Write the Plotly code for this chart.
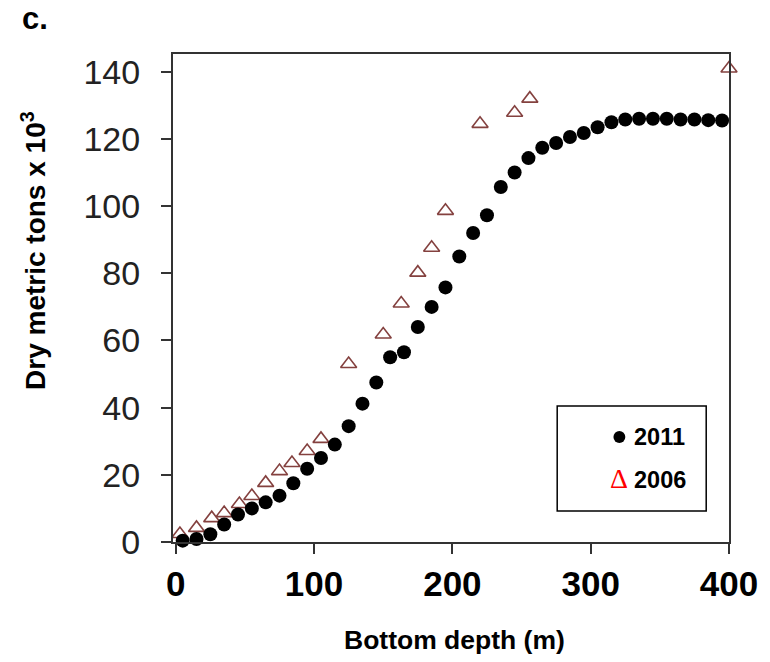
import plotly.graph_objects as go

# ---- data ----
depth_2011 = [5, 15, 25, 35, 45, 55, 65, 75, 85, 95, 105, 115, 125, 135, 145, 155, 165, 175,
              185, 195, 205, 215, 225, 235, 245, 255, 265, 275, 285, 295, 305, 315, 325, 335,
              345, 355, 365, 375, 385, 395]
tons_2011 = [0.4, 0.9, 2.3, 5.2, 8.2, 10.0, 11.8, 13.8, 17.5, 21.8, 25.0, 29.0, 34.5, 41.2,
             47.5, 55.0, 56.5, 64.0, 70.0, 75.8, 85.0, 92.0, 97.3, 105.7, 110.0, 114.3, 117.4,
             118.8, 120.6, 121.8, 123.5, 125.0, 125.8, 126.0, 126.0, 126.0, 125.8, 125.8,
             125.6, 125.5]

depth_2006 = [3, 15, 26, 35, 46, 55, 65, 75, 84, 95, 105, 125, 150, 163, 175, 185, 195,
              220, 245, 256, 400]
tons_2006 = [2.4, 4.2, 7.1, 8.6, 11.3, 13.7, 17.6, 21.1, 23.5, 27.1, 30.7, 53.0, 61.8, 71.0,
             80.2, 87.6, 98.6, 124.5, 127.8, 132.0, 141.0]

legend_labels = ["2011", "2006"]
x_ticks = [0, 100, 200, 300, 400]
y_ticks = [0, 20, 40, 60, 80, 100, 120, 140]

fig = go.Figure()
fig.add_trace(go.Scatter(
    x=depth_2006, y=tons_2006, mode="markers", name=legend_labels[1],
    marker=dict(symbol="triangle-up-open", size=14, color="#84413f",
                line=dict(width=1.6, color="#84413f")),
    cliponaxis=False, showlegend=False))
fig.add_trace(go.Scatter(
    x=depth_2011, y=tons_2011, mode="markers", name=legend_labels[0],
    marker=dict(symbol="circle", size=14, color="black"),
    cliponaxis=False, showlegend=False))

axis_common = dict(showline=True, linecolor="#333333", linewidth=2, mirror=True,
                   ticks="outside", ticklen=10, tickwidth=2, tickcolor="#333333",
                   showgrid=False, zeroline=False)

fig.update_xaxes(range=[-2, 400], tickvals=x_ticks, ticklabelstandoff=0,
                 tickfont=dict(family="Liberation Sans, Arial", size=35, color="black",
                               weight="bold"),
                 **axis_common)
fig.update_yaxes(range=[0, 145.3], tickvals=y_ticks, ticklabelstandoff=14,
                 tickfont=dict(family="Liberation Sans, Arial", size=34, color="#222222"),
                 **axis_common)

ann = []
# panel letter
ann.append(dict(text="<b>c.</b>", x=-0.2753, y=1.072, xref="paper", yref="paper",
                xanchor="left", yanchor="middle", showarrow=False,
                font=dict(family="Liberation Sans, Arial", size=31, color="black")))
# y title
ann.append(dict(text="<b>Dry metric tons x 10<sup>3</sup></b>", x=-0.2504, y=0.598,
                xref="paper", yref="paper", xanchor="center", yanchor="middle",
                textangle=-90, showarrow=False,
                font=dict(family="Liberation Sans, Arial", size=28, color="black")))
# x title
ann.append(dict(text="<b>Bottom depth (m)</b>", x=0.507, y=-0.200, xref="paper", yref="paper",
                xanchor="center", yanchor="middle", showarrow=False,
                font=dict(family="Liberation Sans, Arial", size=26.5, color="black")))
# legend texts
ann.append(dict(text="<b>" + legend_labels[0] + "</b>", x=0.924, y=0.215, xref="paper",
                yref="paper", xanchor="right", yanchor="middle", showarrow=False,
                font=dict(family="Liberation Sans, Arial", size=23.5, color="black")))
ann.append(dict(text="<b>" + legend_labels[1] + "</b>", x=0.926, y=0.127, xref="paper",
                yref="paper", xanchor="right", yanchor="middle", showarrow=False,
                font=dict(family="Liberation Sans, Arial", size=23.5, color="black")))
ann.append(dict(text="Δ", x=(624.5 - 173) / 563, y=0.130, xref="paper", yref="paper",
                xanchor="center", yanchor="middle", showarrow=False,
                font=dict(family="Liberation Serif, Times New Roman", size=28, color="#ff0000")))

shapes = [
    dict(type="rect", xref="paper", yref="paper", x0=0.691, x1=0.959, y0=0.0635, y1=0.2787,
         line=dict(color="black", width=1.5), fillcolor="white", layer="above"),
    dict(type="circle", xref="paper", yref="paper", x0=(619 - 173) / 563, x1=(631 - 173) / 563,
         y0=(542 - 443) / 488, y1=(542 - 431) / 488,
         line=dict(color="black", width=0), fillcolor="black", layer="above"),
]

fig.update_layout(width=770, height=662, margin=dict(l=173, r=34, t=54, b=120),
                  plot_bgcolor="white", paper_bgcolor="white",
                  annotations=ann, shapes=shapes, showlegend=False)

fig.write_html("out.html")
